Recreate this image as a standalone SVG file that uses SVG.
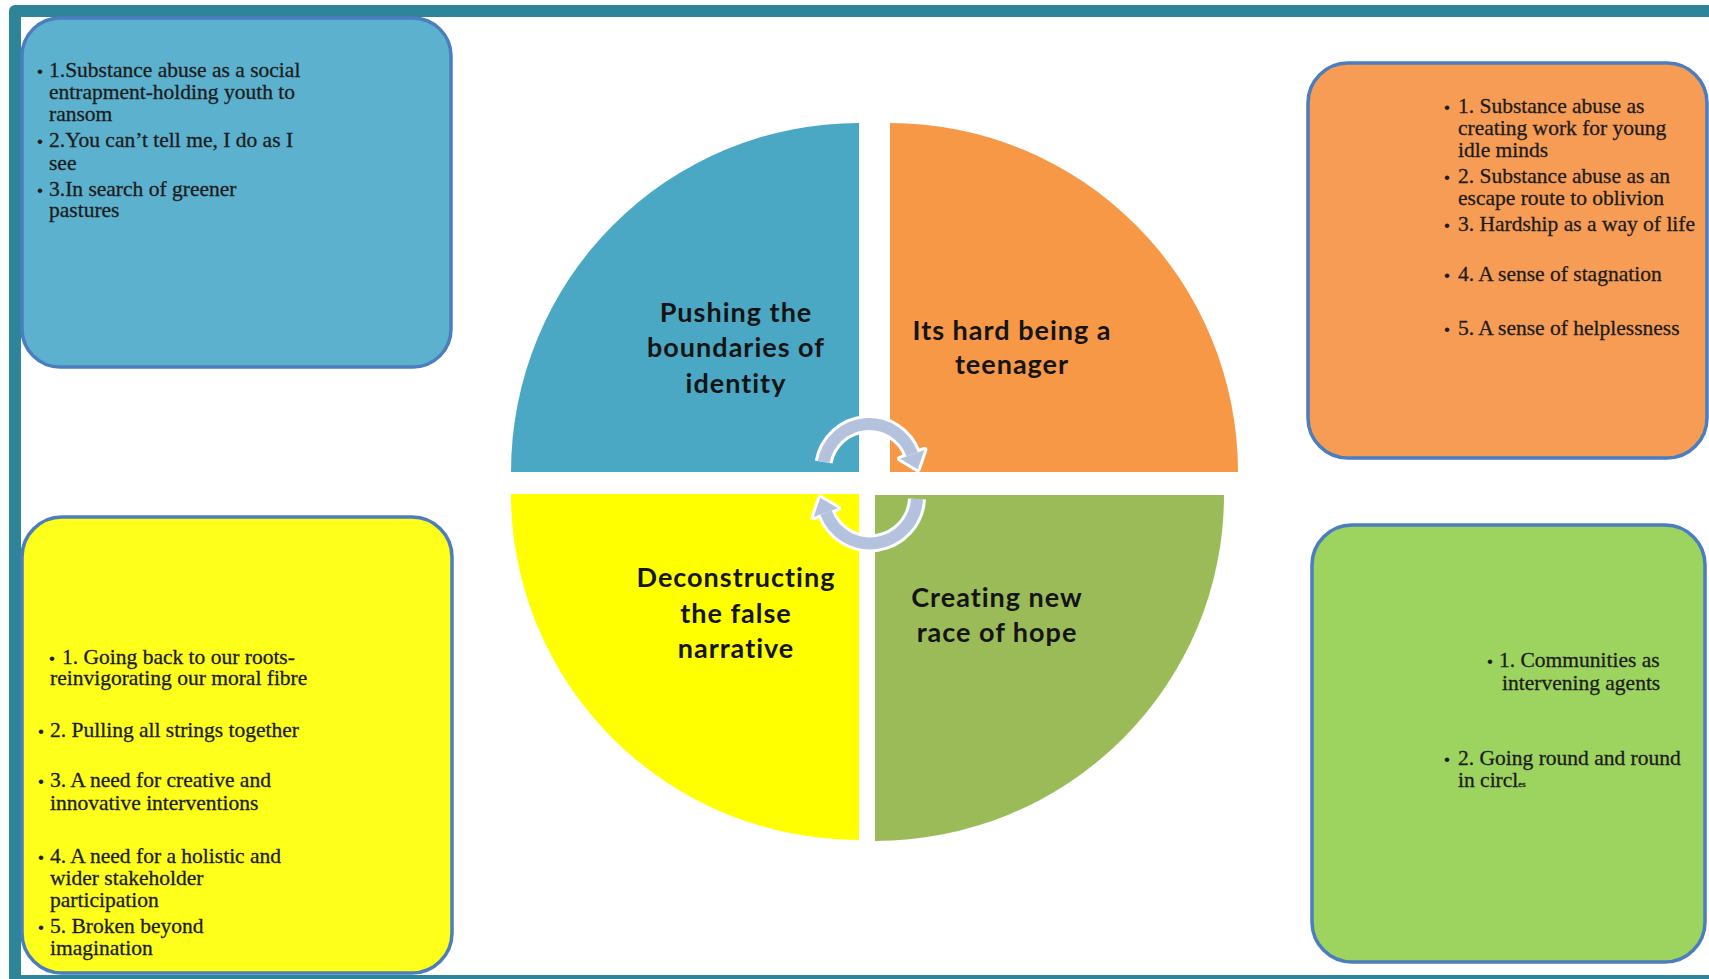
<svg xmlns="http://www.w3.org/2000/svg" width="1709" height="979" viewBox="0 0 1709 979">
<style>
.box{stroke:#4b7dbf;stroke-width:3.5}
.t{font-family:"Liberation Serif","Times New Roman",serif;font-size:21.5px;fill:#1c1c1c;stroke:#1c1c1c;stroke-width:0.3}
.b{font-family:"Liberation Sans",Arial,sans-serif;font-size:17px;fill:#1c1c1c}
.lbl{font-family:Lato,"Open Sans",sans-serif;font-weight:700;font-size:27px;letter-spacing:1px;fill:#141414;text-anchor:middle}
.shaft{fill:none;stroke:#b4c2de;stroke-width:12}
.shaftw{fill:none;stroke:#ffffff;stroke-width:18}
.head{fill:#b4c2de}
.headw{fill:#ffffff;stroke:#ffffff;stroke-width:6;stroke-linejoin:round}
</style>
<g id="frame">
<rect x="9" y="5" width="1720" height="990" rx="6" fill="#2e8499"/>
<rect x="21" y="17" width="1700" height="958" fill="#ffffff"/>
</g>
<g id="box-blue">
<rect class="box" x="22" y="18" width="429" height="349" rx="38" fill="#5cb1ce"/>
<text class="b" x="37" y="77">•</text>
<text class="t" x="49" y="77">1.Substance abuse as a social</text>
<text class="t" x="49" y="99">entrapment-holding youth to</text>
<text class="t" x="49" y="121">ransom</text>
<text class="b" x="37" y="147">•</text>
<text class="t" x="49" y="147">2.You can’t tell me, I do as I</text>
<text class="t" x="49" y="170">see</text>
<text class="b" x="37" y="196">•</text>
<text class="t" x="49" y="196">3.In search of greener</text>
<text class="t" x="49" y="217">pastures</text>
</g>
<g id="box-orange">
<rect class="box" x="1308" y="63" width="399" height="395" rx="40" fill="#f79c55"/>
<text class="b" x="1444" y="113">•</text>
<text class="t" x="1458" y="113">1. Substance abuse as</text>
<text class="t" x="1458" y="135">creating work for young</text>
<text class="t" x="1458" y="157">idle minds</text>
<text class="b" x="1444" y="183">•</text>
<text class="t" x="1458" y="183">2. Substance abuse as an</text>
<text class="t" x="1458" y="205">escape route to oblivion</text>
<text class="b" x="1444" y="231">•</text>
<text class="t" x="1458" y="231">3. Hardship as a way of life</text>
<text class="b" x="1444" y="281">•</text>
<text class="t" x="1458" y="281">4. A sense of stagnation</text>
<text class="b" x="1444" y="335">•</text>
<text class="t" x="1458" y="335">5. A sense of helplessness</text>
</g>
<g id="box-yellow">
<rect class="box" x="22" y="517" width="430" height="456" rx="40" fill="#ffff1c" stroke="#6a8fc2"/>
<text class="b" x="49" y="664">•</text>
<text class="t" x="62" y="664">1. Going back to our roots-</text>
<text class="t" x="50" y="685">reinvigorating our moral fibre</text>
<text class="b" x="38" y="737">•</text>
<text class="t" x="50" y="737">2. Pulling all strings together</text>
<text class="b" x="38" y="787">•</text>
<text class="t" x="50" y="787">3. A need for creative and</text>
<text class="t" x="50" y="810">innovative  interventions</text>
<text class="b" x="38" y="863">•</text>
<text class="t" x="50" y="863">4. A need for a holistic and</text>
<text class="t" x="50" y="885">wider stakeholder</text>
<text class="t" x="50" y="907">participation</text>
<text class="b" x="38" y="933">•</text>
<text class="t" x="50" y="933">5. Broken beyond</text>
<text class="t" x="50" y="955">imagination</text>
</g>
<g id="box-green">
<rect class="box" x="1312" y="525" width="393" height="437" rx="40" fill="#9dd35f"/>
<text class="b" x="1487" y="667">•</text>
<text class="t" x="1499" y="667">1. Communities as</text>
<text class="t" x="1502" y="690">intervening agents</text>
<text class="b" x="1444" y="765">•</text>
<text class="t" x="1458" y="765">2. Going round and round</text>
<text class="t" x="1458" y="787">in circl<tspan font-size="9">es</tspan></text>
</g>
<g id="quad-identity">
<path d="M859 472 L511 472 A348 349 0 0 1 859 123 Z" fill="#4aa8c4"/>
<text class="lbl" x="736" y="322">Pushing the</text>
<text class="lbl" x="736" y="357">boundaries of</text>
<text class="lbl" x="736" y="393">identity</text>
</g>
<g id="quad-teenager">
<path d="M890 472 L890 123 A348 349 0 0 1 1238 472 Z" fill="#f69846"/>
<text class="lbl" x="1012" y="340">Its hard being a</text>
<text class="lbl" x="1012" y="374">teenager</text>
</g>
<g id="quad-narrative">
<path d="M859 494 L859 840 A348 346 0 0 1 511 494 Z" fill="#ffff00"/>
<text class="lbl" x="736" y="587">Deconstructing</text>
<text class="lbl" x="736" y="623">the false</text>
<text class="lbl" x="736" y="658">narrative</text>
</g>
<g id="quad-hope">
<path d="M875 495 L1224 495 A349 346 0 0 1 875 841 Z" fill="#9bbb59"/>
<text class="lbl" x="997" y="607">Creating new</text>
<text class="lbl" x="997" y="642">race of hope</text>
</g>
<g id="connectors">
<path class="shaftw" d="M823.7 462 A46 46 0 0 1 912.2 454.3"/>
<polygon class="headw" points="924.4,449.9 900,458.7 917.7,469.3"/>
<path class="shaftw" d="M917 499 A47 47 0 0 1 826 512.7"/>
<polygon class="headw" points="813.6,517.1 838,508.3 820.3,497.7"/>
<path class="shaft" d="M823.7 462 A46 46 0 0 1 912.2 454.3"/>
<polygon class="head" points="924.4,449.9 900,458.7 917.7,469.3"/>
<path class="shaft" d="M917 499 A47 47 0 0 1 826 512.7"/>
<polygon class="head" points="813.6,517.1 838,508.3 820.3,497.7"/>
</g>
</svg>
